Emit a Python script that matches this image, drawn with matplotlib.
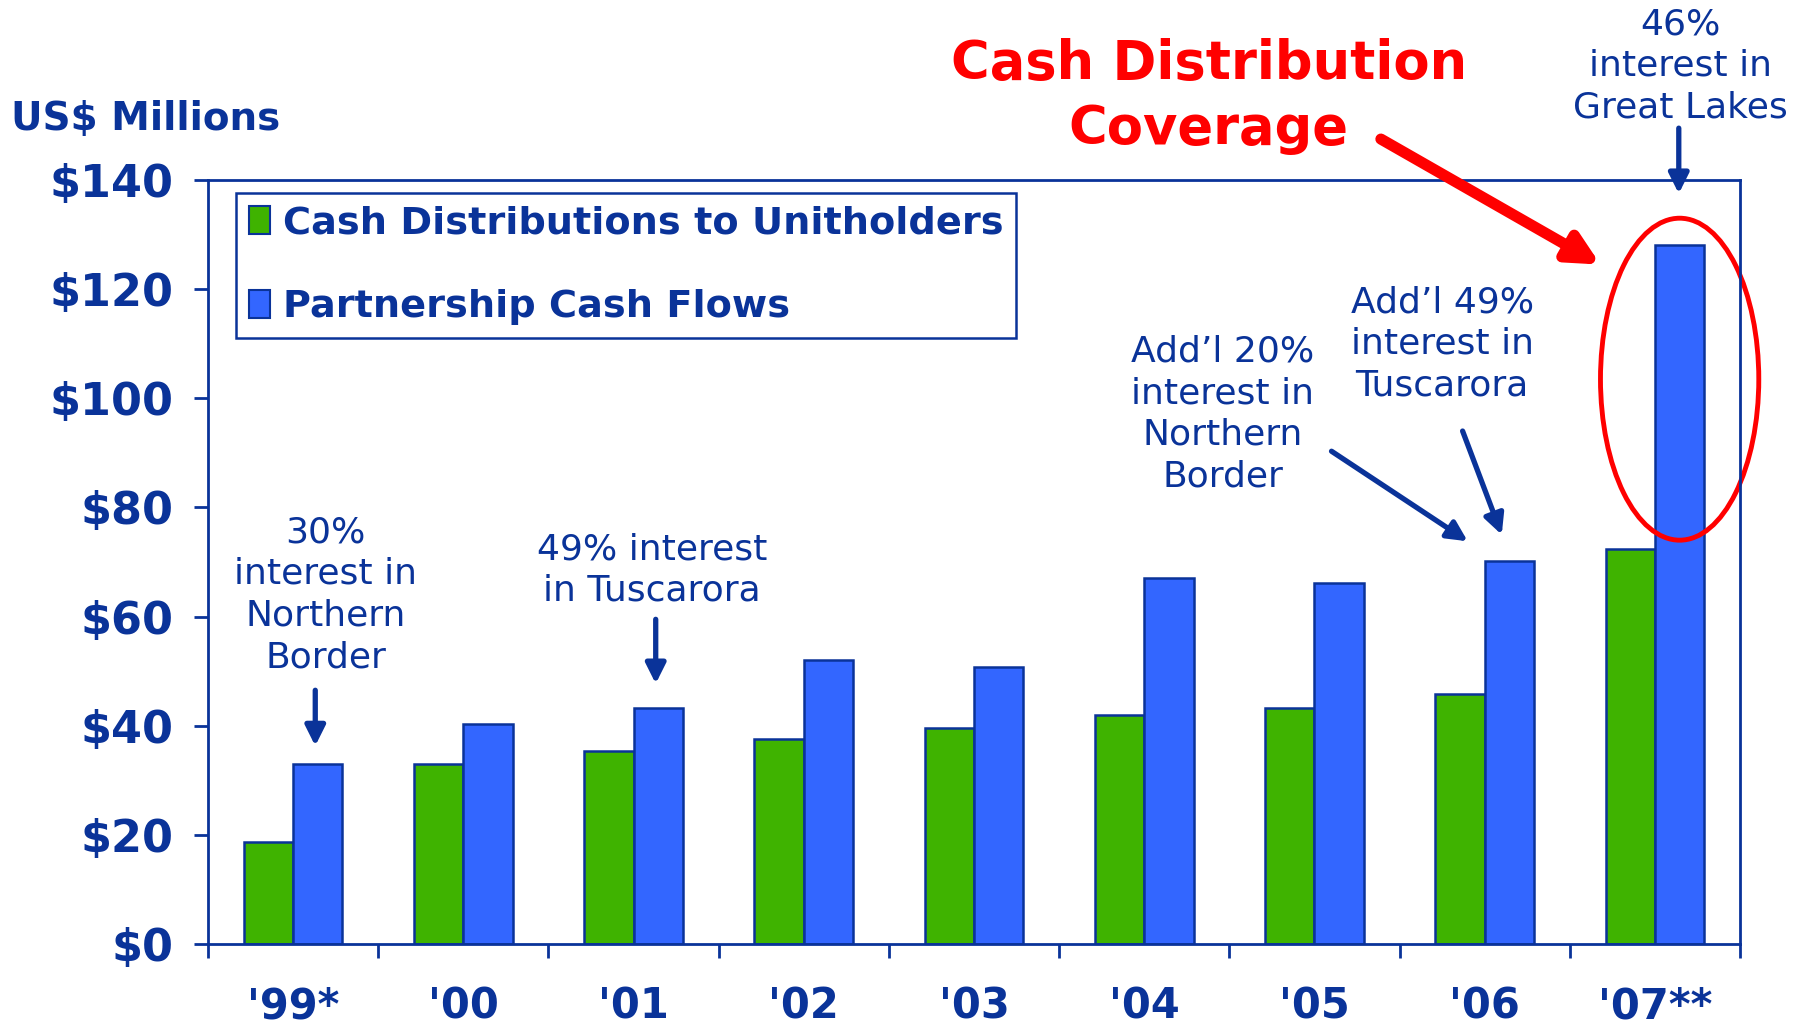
import matplotlib
matplotlib.use("Agg")
import matplotlib.pyplot as plt
from matplotlib.patches import Patch, Ellipse
import numpy as np

NAVY = "#0a3399"
GREEN = "#3fb300"
BLUE = "#3366ff"

years = ["'99*", "'00", "'01", "'02", "'03", "'04", "'05", "'06", "'07**"]
distributions = [18.7, 32.9, 35.4, 37.5, 39.5, 42.0, 43.3, 45.8, 72.3]
cash_flows = [32.9, 40.3, 43.3, 52.0, 50.7, 67.0, 66.2, 70.2, 128.1]
y_ticks = [0, 20, 40, 60, 80, 100, 120, 140]
series_names = ["Cash Distributions to Unitholders", "Partnership Cash Flows"]

fig = plt.figure(figsize=(18.12, 10.28), dpi=100)
ax = fig.add_axes([0.1148, 0.0817, 0.8455, 0.7432])

x = np.arange(len(years))
w = 0.29
ax.bar(x - w / 2, distributions, w, color=GREEN, edgecolor=NAVY, linewidth=1.8)
ax.bar(x + w / 2, cash_flows, w, color=BLUE, edgecolor=NAVY, linewidth=1.8)

ax.set_xlim(-0.5, len(years) - 0.5)
ax.set_ylim(0, 140)

# axes styling
for s in ax.spines.values():
    s.set_color(NAVY)
    s.set_linewidth(2)

ax.set_yticks(y_ticks)
ax.set_yticklabels(["$%d" % v for v in y_ticks])
ax.tick_params(axis="y", direction="out", length=10, width=2, color=NAVY,
               labelsize=32, labelcolor=NAVY, pad=15)
for t in ax.get_yticklabels():
    t.set_fontweight("bold")

ax.set_xticks(np.arange(-0.5, len(years)), labels=[])
ax.set_xticks(x, labels=years, minor=True)
ax.tick_params(axis="x", which="major", direction="out", length=10, width=2, color=NAVY)
ax.tick_params(axis="x", which="minor", length=0, labelsize=30, labelcolor=NAVY, pad=30)
for t in ax.get_xticklabels(minor=True):
    t.set_fontweight("bold")

# legend
handles = [Patch(facecolor=GREEN, edgecolor=NAVY, linewidth=1.5),
           Patch(facecolor=BLUE, edgecolor=NAVY, linewidth=1.5)]
leg = ax.legend(handles, series_names, loc="upper left", bbox_to_anchor=(0.0183, 0.983),
                borderaxespad=0, prop={"size": 27.5, "weight": "bold"}, labelcolor=NAVY,
                handlelength=0.55, handleheight=0.75, handletextpad=0.35,
                labelspacing=1.25, borderpad=0.33, fancybox=False, framealpha=1)
leg.get_frame().set_edgecolor(NAVY)
leg.get_frame().set_linewidth(1.8)

# titles
fig.text(0.006, 0.884, "US$ Millions", color=NAVY, fontsize=28, fontweight="bold",
         ha="left", va="center")
fig.text(0.667, 0.906, "Cash Distribution\nCoverage", color="red", fontsize=38,
         fontweight="bold", ha="center", va="center", linespacing=1.3)

# annotations
note = dict(color=NAVY, fontsize=26, ha="center", va="center", linespacing=1.28,
            annotation_clip=False)
blue_arrow = dict(arrowstyle="-|>", lw=3.8, color=NAVY, mutation_scale=30,
                  shrinkA=0, shrinkB=0)

ax.annotate("30%\ninterest in\nNorthern\nBorder", xy=(0.19, 64), **note)
ax.annotate("", xy=(0.13, 36.3), xytext=(0.13, 46.5), arrowprops=blue_arrow,
            annotation_clip=False)

ax.annotate("49% interest\nin Tuscarora", xy=(2.11, 68.5), **note)
ax.annotate("", xy=(2.13, 47.7), xytext=(2.13, 59.5), arrowprops=blue_arrow,
            annotation_clip=False)

ax.annotate("Add\u2019l 20%\ninterest in\nNorthern\nBorder", xy=(5.46, 97.1), **note)
ax.annotate("", xy=(6.9, 73.8), xytext=(6.1, 90.3), arrowprops=blue_arrow,
            annotation_clip=False)

ax.annotate("Add\u2019l 49%\ninterest in\nTuscarora", xy=(6.75, 110), **note)
ax.annotate("", xy=(7.1, 75.0), xytext=(6.87, 94.0), arrowprops=blue_arrow,
            annotation_clip=False)

ax.annotate("46%\ninterest in\nGreat Lakes", xy=(8.15, 160.9), **note)
ax.annotate("", xy=(8.14, 137.5), xytext=(8.14, 149.5), arrowprops=blue_arrow,
            annotation_clip=False)

# red highlight
ell = Ellipse((8.145, 103.5), 0.93, 59, fill=False, edgecolor="red", lw=3.5,
              clip_on=False)
ax.add_patch(ell)
ax.annotate("", xy=(7.68, 124.5), xytext=(6.39, 147.5),
            arrowprops=dict(arrowstyle="-|>", lw=8, color="red", mutation_scale=45,
                            shrinkA=0, shrinkB=0),
            annotation_clip=False)

fig.savefig("out.png", dpi=100)
